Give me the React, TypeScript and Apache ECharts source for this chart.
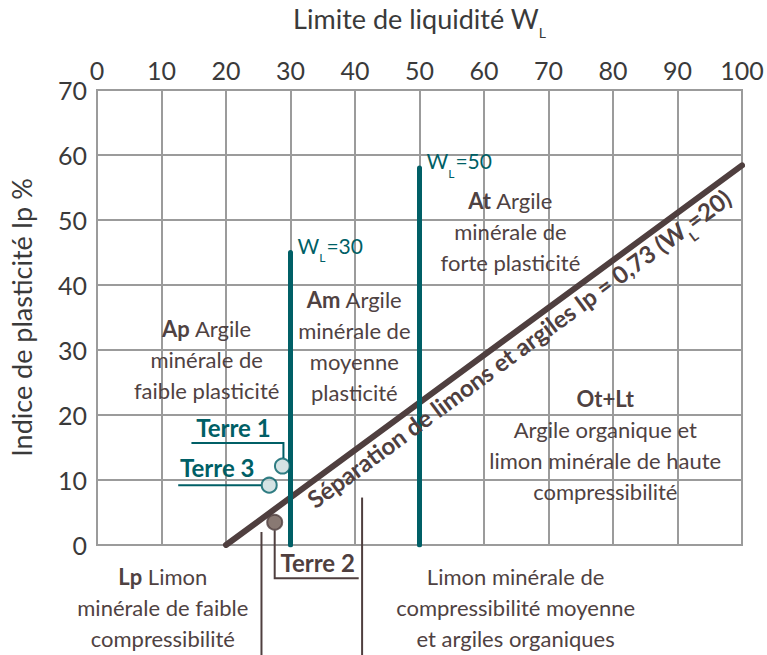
import React, { useEffect, useRef } from "react";
import * as echarts from "echarts";

// ---- data ----
const xMin = 0, xMax = 100, xStep = 10;
const yMin = 0, yMax = 70, yStep = 10;
const aLineWL = [20, 100];
const aLineIp = [0, 58.4];
const wl30WL = [30, 30];
const wl30Ip = [0, 45];
const wl50WL = [50, 50];
const wl50Ip = [0, 58];
const soilNames = ["Terre 1", "Terre 2", "Terre 3"];
const soilWL = [28.75, 27.55, 26.7];
const soilIp = [12.15, 3.5, 9.2];

const TEAL = "#005f66";
const BROWN = "#4f3f3f";
const TXT = "#4f4242";
const GRID = "#9b9b9b";
const AX = "#3a3a3a";
const FONT = "Lato";

export default function App() {
  const ref = useRef<HTMLDivElement>(null);
  useEffect(() => {
    const chart = echarts.init(ref.current!, null, { renderer: "svg" });
    const subRich = {
      s: { fontSize: 14, lineHeight: 14, padding: [20, 0, 0, 0], fontFamily: FONT, color: AX, verticalAlign: "top" },
    };
    chart.setOption({
      animation: false,
      backgroundColor: "#fff",
      textStyle: { fontFamily: FONT },
      grid: { left: 95, right: 25, top: 88, bottom: 110, show: true, borderColor: GRID, borderWidth: 2 },
      xAxis: {
        type: "value", position: "top", min: xMin, max: xMax, interval: xStep,
        name: "Limite de liquidité W{s|L}", nameLocation: "middle", nameGap: 58,
        nameTextStyle: { fontSize: 27, color: AX, fontFamily: FONT, rich: subRich },
        axisLine: { show: false }, axisTick: { show: false },
        axisLabel: { fontSize: 25, color: AX, margin: 8, fontFamily: FONT },
        splitLine: { show: true, lineStyle: { color: GRID, width: 2 } },
      },
      yAxis: {
        type: "value", min: yMin, max: yMax, interval: yStep,
        name: "Indice de plasticité Ip %", nameLocation: "middle", nameGap: 62,
        nameTextStyle: { fontSize: 27, color: AX, fontFamily: FONT },
        axisLine: { show: false }, axisTick: { show: false },
        axisLabel: { fontSize: 25, color: AX, margin: 10, fontFamily: FONT },
        splitLine: { show: true, lineStyle: { color: GRID, width: 2 } },
      },
      series: [
        { type: "line", data: aLineWL.map((x, i) => [x, aLineIp[i]]), symbol: "none", lineStyle: { color: BROWN, width: 6, cap: "round" }, z: 3 },
        { type: "line", data: wl30WL.map((x, i) => [x, wl30Ip[i]]), symbol: "none", lineStyle: { color: TEAL, width: 5, cap: "round" }, z: 4 },
        { type: "line", data: wl50WL.map((x, i) => [x, wl50Ip[i]]), symbol: "none", lineStyle: { color: TEAL, width: 5, cap: "round" }, z: 4 },
        {
          type: "scatter", z: 6, symbolSize: 15,
          data: soilNames.map((n, i) => ({
            name: n, value: [soilWL[i], soilIp[i]],
            itemStyle: n === "Terre 2"
              ? { color: "#6b5850", borderColor: BROWN, borderWidth: 2 }
              : { color: "#cadcdd", borderColor: TEAL, borderWidth: 2 },
          })),
        },
      ],
    });

    const p = (x: number, y: number) => chart.convertToPixel({ gridIndex: 0 }, [x, y]) as number[];
    const g: any[] = [];
    const regionText = (x: number, y: number, text: string) => {
      const [px, py] = p(x, y);
      g.push({
        type: "text", x: px, y: py, z: 10,
        style: {
          text, align: "center", verticalAlign: "middle", fill: TXT, fontSize: 22, lineHeight: 31, fontFamily: FONT,
          rich: { b: { fontWeight: "bold", fontSize: 22, lineHeight: 31, fill: TXT, fontFamily: FONT } },
        },
      });
    };
    regionText(17.0, 28.6, "{b|Ap} Argile\nminérale de\nfaible plasticité");
    regionText(39.9, 30.6, "{b|Am} Argile\nminérale de\nmoyenne\nplasticité");
    regionText(64.1, 48.2, "{b|At} Argile\nminérale de\nforte plasticité");
    regionText(78.8, 15.4, "{b|Ot+Lt}\nArgile organique et\nlimon minérale de haute\ncompressibilité");
    regionText(10.2, -9.6, "{b|Lp} Limon\nminérale de faible\ncompressibilité");
    regionText(64.9, -9.6, "Limon minérale de\ncompressibilité moyenne\net argiles organiques");

    // WL labels
    const wlRich = {
      a: { fontSize: 21, lineHeight: 25, fill: TEAL, fontFamily: FONT, verticalAlign: "top" },
      s: { fontSize: 12, lineHeight: 12, fill: TEAL, fontFamily: FONT, verticalAlign: "top", padding: [17, 1, 0, 0] },
    };
    [[wl30WL[1], wl30Ip[1], "30"], [wl50WL[1], wl50Ip[1], "50"]].forEach(([x, y, v]) => {
      const [px, py] = p(x as number, y as number);
      g.push({ type: "text", x: px + 7, y: py - 18, z: 10, style: { text: `{a|W}{s|L}{a|=${v}}`, align: "left", verticalAlign: "top", rich: wlRich } });
    });

    // separation line label
    const [x0, y0] = p(aLineWL[0], aLineIp[0]);
    const [x1, y1] = p(aLineWL[1], aLineIp[1]);
    const ang = Math.atan2(y0 - y1, x1 - x0);
    const midX = 64;
    const [mx, my] = p(midX, aLineIp[0] + (aLineIp[1] - aLineIp[0]) * (midX - aLineWL[0]) / (aLineWL[1] - aLineWL[0]));
    const off = 17;
    g.push({
      type: "text", x: mx + Math.sin(ang) * off, y: my + Math.cos(ang) * off, rotation: ang, z: 10,
      style: {
        text: "{a|Séparation de limons et argiles Ip = 0,73 (W}{s|L}{a|=20)}", align: "center", verticalAlign: "middle",
        rich: {
          a: { fontSize: 24, fontWeight: "bold", lineHeight: 28, fill: BROWN, fontFamily: FONT, verticalAlign: "top" },
          s: { fontSize: 14, fontWeight: "bold", lineHeight: 14, fill: BROWN, fontFamily: FONT, verticalAlign: "top", padding: [18, 0, 0, 0] },
        },
      },
    });

    // soil labels and leaders
    const [t1x, t1y] = p(soilWL[0], soilIp[0]);
    const [t2x, t2y] = p(soilWL[1], soilIp[1]);
    const [t3x, t3y] = p(soilWL[2], soilIp[2]);
    g.push({ type: "polyline", z: 5, shape: { points: [[t1x - 91, t1y - 23], [t1x + 1, t1y - 23], [t1x + 1, t1y - 8]] }, style: { stroke: TEAL, lineWidth: 2, fill: null } });
    g.push({ type: "polyline", z: 5, shape: { points: [[t3x - 91, t3y], [t3x - 8, t3y]] }, style: { stroke: TEAL, lineWidth: 2, fill: null } });
    g.push({ type: "polyline", z: 5, shape: { points: [[t2x, t2y + 8], [t2x, t2y + 56], [t2x + 84, t2y + 56]] }, style: { stroke: BROWN, lineWidth: 2, fill: null } });
    const lab = (x: number, y: number, text: string, color: string) =>
      g.push({ type: "text", x, y, z: 10, style: { text, align: "center", verticalAlign: "middle", fill: color, fontSize: 24, fontWeight: "bold", fontFamily: FONT } });
    lab(t1x - 49, t1y - 39, soilNames[0], TEAL);
    lab(t3x - 52, t3y - 18, soilNames[2], TEAL);
    lab(t2x + 43, t2y + 40, soilNames[1], BROWN);

    // vertical separators below
    [[25.5, 2.0], [41.1, 7.3]].forEach(([x, y]) => {
      const [a, b] = p(x, y);
      const [, c] = p(x, -17);
      g.push({ type: "line", z: 5, shape: { x1: a, y1: b, x2: a, y2: c }, style: { stroke: BROWN, lineWidth: 2 } });
    });

    chart.setOption({ graphic: g });
    return () => chart.dispose();
  }, []);
  return <div ref={ref} style={{ position: "fixed", left: 0, top: 0, width: 767, height: 655 }} />;
}
